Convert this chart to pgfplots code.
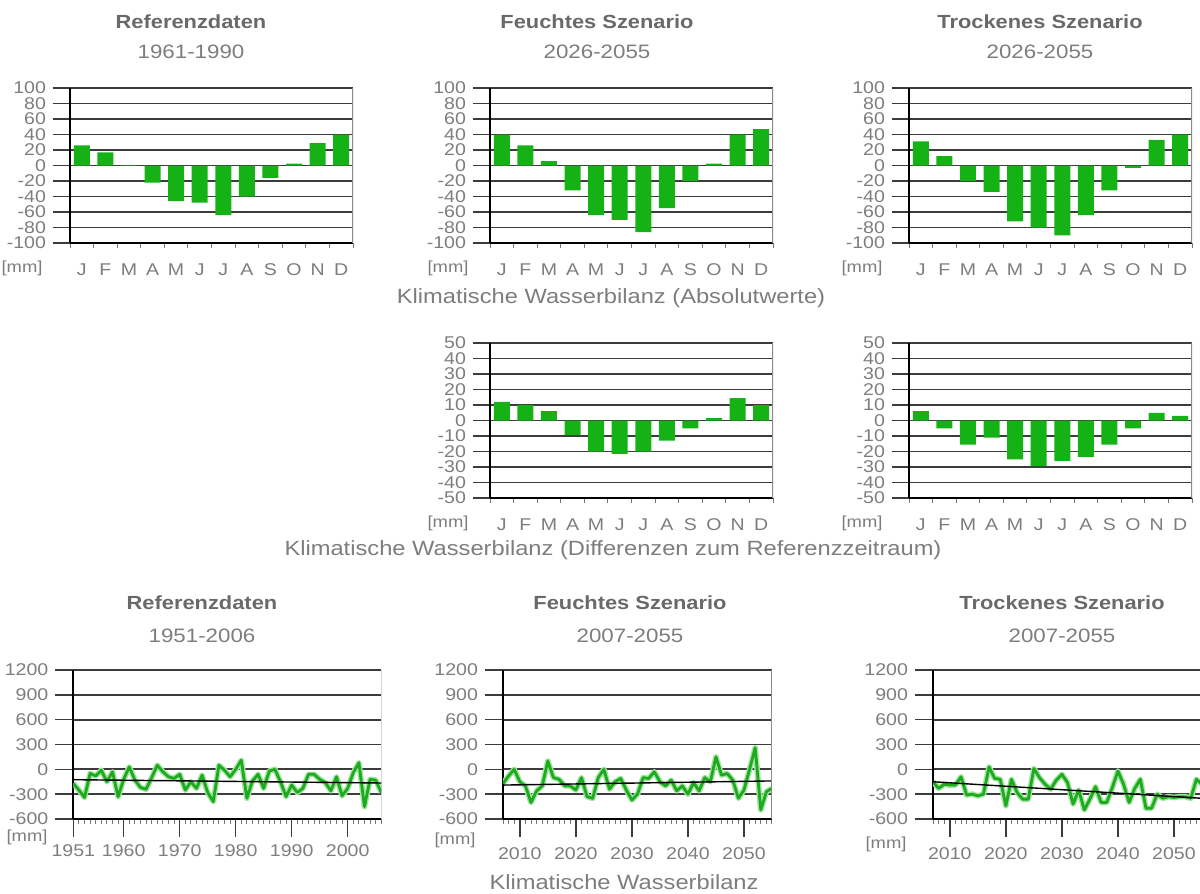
\documentclass[border=0pt]{standalone}
\usepackage{fontspec}
\setmainfont{Liberation Sans}[FakeStretch=1.15]
\usepackage{pgfplots}
\pgfplotsset{compat=1.18}
\usepackage{pgfplotstable}

\definecolor{bargreen}{RGB}{20,178,20}
\definecolor{linegreen}{RGB}{30,170,30}
\definecolor{glowgreen}{RGB}{160,228,160}
\definecolor{txtgray}{RGB}{125,125,125}
\definecolor{titlegray}{RGB}{105,105,105}
\definecolor{gridc}{RGB}{60,60,60}

\pgfplotstableread{
m ref feucht trocken dfeucht dtrocken
0 26 40 31 12 6
1 17 26 12 10 -5
2 0.5 5.5 -20 6 -15.5
3 -22 -32 -34 -9.5 -11
4 -46 -64 -72 -20 -25
5 -48 -70 -80 -21.5 -29.5
6 -64 -86 -90 -20 -26
7 -40 -55 -64 -13 -23.5
8 -16 -20 -32 -5 -15.5
9 2.5 2.5 -3 1.5 -5
10 29 40 33 14.5 5
11 40 47 40 10 3
}\monthly

\pgfplotstableread{
year val
1951 -170
1952 -250
1953 -340
1954 -50
1955 -80
1956 -10
1957 -150
1958 -30
1959 -330
1960 -120
1961 30
1962 -130
1963 -220
1964 -240
1965 -100
1966 50
1967 -30
1968 -90
1969 -110
1970 -60
1971 -250
1972 -150
1973 -230
1974 -70
1975 -280
1976 -390
1977 50
1978 -10
1979 -90
1980 0
1981 110
1982 -350
1983 -140
1984 -60
1985 -230
1986 -20
1987 0
1988 -150
1989 -330
1990 -190
1991 -280
1992 -230
1993 -60
1994 -60
1995 -120
1996 -160
1997 -260
1998 -90
1999 -320
2000 -230
2001 -40
2002 80
2003 -450
2004 -120
2005 -130
2006 -280
}\refline

\pgfplotstableread{
year val
2007 -170
2008 -80
2009 0
2010 -150
2011 -200
2012 -400
2013 -260
2014 -200
2015 100
2016 -100
2017 -120
2018 -200
2019 -200
2020 -250
2021 -100
2022 -330
2023 -350
2024 -100
2025 0
2026 -240
2027 -150
2028 -110
2029 -250
2030 -370
2031 -300
2032 -100
2033 -110
2034 -30
2035 -150
2036 -200
2037 -130
2038 -260
2039 -200
2040 -300
2041 -160
2042 -260
2043 -100
2044 -150
2045 150
2046 -70
2047 -50
2048 -130
2049 -350
2050 -250
2051 0
2052 260
2053 -490
2054 -270
2055 -230
}\feuchtline

\pgfplotstableread{
year val
2007 -150
2008 -230
2009 -180
2010 -190
2011 -190
2012 -90
2013 -310
2014 -300
2015 -320
2016 -300
2017 30
2018 -110
2019 -120
2020 -440
2021 -120
2022 -280
2023 -360
2024 -360
2025 10
2026 -100
2027 -180
2028 -240
2029 -130
2030 -60
2031 -160
2032 -420
2033 -250
2034 -490
2035 -360
2036 -210
2037 -400
2038 -400
2039 -220
2040 -20
2041 -180
2042 -400
2043 -230
2044 -120
2045 -470
2046 -470
2047 -300
2048 -350
2049 -330
2050 -340
2051 -330
2052 -330
2053 -350
2054 -120
2055 -180
}\trockenline

\pgfplotsset{
  common/.style={
    scale only axis, anchor=south west,
    axis lines*=left,
    axis line style={draw=black, line width=1.1bp},
    tick align=outside,
    major tick length=8.5bp, minor tick length=2.5bp,
    tick style={draw=gridc, line width=0.8bp},
    minor tick style={draw=gridc!70, line width=0.5bp},
    ymajorgrids, grid style={draw=gridc, line width=0.85bp},
    tick label style={font=\fontsize{8.5bp}{9bp}\selectfont, text=txtgray},
    /pgf/number format/assume math mode=true,
    /pgf/number format/set thousands separator={},
  },
  barax/.style={common,
    width=141.5bp, height=77.5bp,
    xmin=-0.5, xmax=11.5,
    xtick={0,...,11}, xticklabels={J,F,M,A,M,J,J,A,S,O,N,D},
    major x tick style={draw=none},
    minor xtick={-0.5,0.5,...,11.5},
    ybar, bar width=0.68,
    xticklabel style={yshift=1.5bp},
  },
  absax/.style={barax, ymin=-100, ymax=100, ytick={-100,-80,...,100}},
  diffax/.style={barax, ymin=-50, ymax=50, ytick={-50,-40,...,50}},
  lineax/.style={common,
    width=134.5bp, height=74.5bp,
    ymin=-600, ymax=1200, ytick={-600,-300,...,1200},
    major tick length=9bp,
    xticklabel style={yshift=-2bp},
  },
  bars/.style={fill=bargreen, draw=none},
  glow/.style={glowgreen, line width=2.8bp, line join=round},
  gline/.style={linegreen, line width=1.4bp, line join=round},
  trend/.style={black, line width=0.7bp},
}

\tikzset{
  ttlS/.style={font=\bfseries\fontsize{9.5bp}{10bp}\selectfont, text=titlegray, inner sep=0},
  subS/.style={font=\fontsize{9.7bp}{10bp}\selectfont, text=txtgray, inner sep=0},
  capS/.style={font=\fontsize{10.3bp}{11bp}\selectfont, text=txtgray, inner sep=0},
  mmS/.style={font=\fontsize{8bp}{9bp}\selectfont, text=txtgray, inner sep=0},
}
\newcommand{\rborder}{\draw[gridc!60, line width=0.6bp] (rel axis cs:1,0) -- (rel axis cs:1,1);}

\begin{document}
\begin{tikzpicture}
\useasboundingbox (0,0) rectangle (600bp,-447bp);

% ---- top row: absolute values ----
\begin{axis}[absax, at={(35bp,-121.5bp)}]
  \addplot[bars] table[x=m, y=ref]{\monthly};
  \rborder
\end{axis}
\begin{axis}[absax, at={(245bp,-121.5bp)}]
  \addplot[bars] table[x=m, y=feucht]{\monthly};
  \rborder
\end{axis}
\begin{axis}[absax, at={(454.5bp,-121.5bp)}]
  \addplot[bars] table[x=m, y=trocken]{\monthly};
  \rborder
\end{axis}

% ---- middle row: differences ----
\begin{axis}[diffax, at={(245bp,-249bp)}]
  \addplot[bars] table[x=m, y=dfeucht]{\monthly};
  \rborder
\end{axis}
\begin{axis}[diffax, at={(454.5bp,-249bp)}]
  \addplot[bars] table[x=m, y=dtrocken]{\monthly};
  \rborder
\end{axis}

% ---- bottom row: annual series ----
\begin{axis}[lineax, at={(36.65bp,-409.5bp)}, width=154bp,
    xmin=1951, xmax=2006, xtick={1951,1960,1970,1980,1990,2000},
    minor xtick={1951,...,2006}, xticklabel style={yshift=1.5bp}]
  \addplot[glow] table[x=year, y=val]{\refline};
  \addplot[gline] table[x=year, y=val]{\refline};
  \addplot[trend] coordinates {(1951,-125) (2006,-165)};
  \rborder
\end{axis}
\begin{axis}[lineax, at={(251.5bp,-409.5bp)},
    xmin=2007, xmax=2055, xtick={2010,2020,...,2050},
    minor xtick={2007,...,2055}]
  \addplot[glow] table[x=year, y=val]{\feuchtline};
  \addplot[gline] table[x=year, y=val]{\feuchtline};
  \addplot[trend] coordinates {(2007,-190) (2055,-140)};
  \rborder
\end{axis}
\begin{axis}[lineax, at={(466.5bp,-409.5bp)},
    xmin=2007, xmax=2055, xtick={2010,2020,...,2050},
    minor xtick={2007,...,2055}]
  \addplot[glow] table[x=year, y=val]{\trockenline};
  \addplot[gline] table[x=year, y=val]{\trockenline};
  \addplot[trend] coordinates {(2007,-150) (2055,-350)};
  \rborder
\end{axis}

% ---- titles ----
\node[ttlS] at (95.5bp,-11bp) {Referenzdaten};
\node[subS] at (95.5bp,-26bp) {1961-1990};
\node[ttlS] at (298.5bp,-11bp) {Feuchtes Szenario};
\node[subS] at (298.5bp,-26bp) {2026-2055};
\node[ttlS] at (520bp,-11bp) {Trockenes Szenario};
\node[subS] at (520bp,-26bp) {2026-2055};

\node[capS] at (305.5bp,-149bp) {Klimatische Wasserbilanz (Absolutwerte)};
\node[capS] at (306.5bp,-275bp) {Klimatische Wasserbilanz (Differenzen zum Referenzzeitraum)};

\node[ttlS] at (101bp,-301.5bp) {Referenzdaten};
\node[subS] at (101bp,-318bp) {1951-2006};
\node[ttlS] at (315bp,-301.5bp) {Feuchtes Szenario};
\node[subS] at (315bp,-318bp) {2007-2055};
\node[ttlS] at (531bp,-301.5bp) {Trockenes Szenario};
\node[subS] at (531bp,-318bp) {2007-2055};

\node[capS] at (312bp,-441bp) {Klimatische Wasserbilanz};

% ---- unit labels ----
\node[mmS] at (11bp,-134bp) {[mm]};
\node[mmS] at (224bp,-134bp) {[mm]};
\node[mmS] at (431bp,-134bp) {[mm]};
\node[mmS] at (224bp,-261.5bp) {[mm]};
\node[mmS] at (431bp,-261.5bp) {[mm]};
\node[mmS] at (13.5bp,-418.5bp) {[mm]};
\node[mmS] at (227.5bp,-420bp) {[mm]};
\node[mmS] at (443bp,-422bp) {[mm]};
\end{tikzpicture}
\end{document}
